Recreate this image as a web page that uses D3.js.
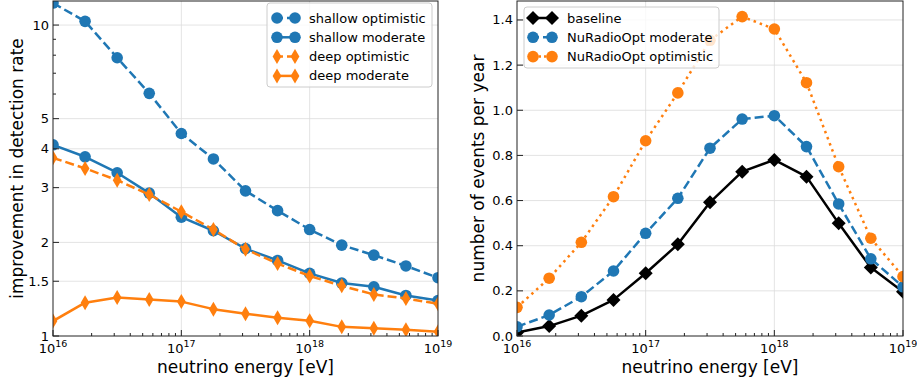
<!DOCTYPE html>
<html>
<head>
<meta charset="utf-8">
<script src="https://cdn.jsdelivr.net/npm/d3@7"></script>
<style>
  body { margin: 0; background: #fff; }
  svg { font-family: "DejaVu Sans", sans-serif; }
</style>
</head>
<body>
<div id="chart"></div>
<script>
// energies: 10^16 ... 10^19 in quarter decades
const energies = d3.range(13).map((i) => Math.pow(10, 16 + i * 0.25));

const shallowOptimistic = [11.77, 10.28, 7.85, 6.03, 4.48, 3.71, 2.93, 2.53, 2.20, 1.96, 1.82, 1.68, 1.54];
const shallowModerate = [4.12, 3.77, 3.35, 2.88, 2.41, 2.18, 1.91, 1.75, 1.59, 1.48, 1.44, 1.35, 1.30];
const deepOptimistic = [3.74, 3.46, 3.17, 2.85, 2.51, 2.20, 1.90, 1.71, 1.56, 1.45, 1.36, 1.32, 1.27];
const deepModerate = [1.117, 1.28, 1.33, 1.31, 1.29, 1.22, 1.18, 1.145, 1.12, 1.07, 1.06, 1.048, 1.032];

const baseline = [0.015, 0.044, 0.09, 0.16, 0.278, 0.406, 0.592, 0.728, 0.78, 0.706, 0.499, 0.303, 0.196];
const nuRadioModerate = [0.041, 0.093, 0.174, 0.288, 0.455, 0.61, 0.832, 0.961, 0.976, 0.839, 0.585, 0.342, 0.218];
const nuRadioOptimistic = [0.127, 0.256, 0.415, 0.617, 0.865, 1.077, 1.31, 1.415, 1.36, 1.122, 0.75, 0.433, 0.263];

const leftYTicks = [1, 1.5, 2, 3, 4, 5, 10];
const leftYMinor = [6, 7, 8, 9];
const rightYTicks = [0, 0.2, 0.4, 0.6, 0.8, 1.0, 1.2, 1.4];
const xMajorExp = [16, 17, 18, 19];

const BLUE = "#1f77b4";
const ORANGE = "#ff7f0e";

const width = 917;
const height = 387;

const svg = d3.select("#chart")
  .append("svg")
  .attr("width", width)
  .attr("height", height);

function drawPanel(opts) {
  const { left, right, top, bottom, y, yTicks, yMinor, yFormat, yLabel, yLabelX, series, id } = opts;

  const x = d3.scaleLog().domain([1e16, 1e19]).range([left, right]);

  const g = svg.append("g");

  g.append("clipPath").attr("id", id)
    .append("rect")
    .attr("x", left).attr("y", top)
    .attr("width", right - left).attr("height", bottom - top);

  // grid
  const grid = g.append("g").attr("stroke", "#dcdcdc").attr("stroke-width", 0.8);
  xMajorExp.slice(1, -1).forEach((e) => {
    grid.append("line")
      .attr("x1", x(Math.pow(10, e))).attr("x2", x(Math.pow(10, e)))
      .attr("y1", top).attr("y2", bottom);
  });
  yTicks.forEach((v) => {
    const yy = y(v);
    if (yy <= top + 1 || yy >= bottom - 1) return;
    grid.append("line").attr("x1", left).attr("x2", right).attr("y1", yy).attr("y2", yy);
  });

  // series
  const plot = g.append("g").attr("clip-path", `url(#${id})`);
  series.forEach((s) => {
    const pts = energies.map((e, i) => [x(e), y(s.values[i])]);
    plot.append("path")
      .attr("d", d3.line()(pts))
      .attr("fill", "none")
      .attr("stroke", s.color)
      .attr("stroke-width", 2.5)
      .attr("stroke-dasharray", s.dash || null)
      .attr("stroke-linejoin", "round");
    pts.forEach((p) => drawMarker(plot, s.marker, p[0], p[1], s.color));
  });

  // frame
  g.append("rect")
    .attr("x", left).attr("y", top)
    .attr("width", right - left).attr("height", bottom - top)
    .attr("fill", "none").attr("stroke", "#222").attr("stroke-width", 1);

  // x ticks (inward)
  const ticks = g.append("g").attr("stroke", "#222").attr("stroke-width", 1);
  xMajorExp.forEach((e) => {
    const xx = x(Math.pow(10, e));
    ticks.append("line").attr("x1", xx).attr("x2", xx).attr("y1", bottom).attr("y2", bottom - 6);
    if (e < 19) {
      for (let m = 2; m <= 9; m++) {
        const xm = x(m * Math.pow(10, e));
        ticks.append("line").attr("x1", xm).attr("x2", xm).attr("y1", bottom).attr("y2", bottom - 3);
      }
    }
    const t = g.append("text")
      .attr("x", xx).attr("y", bottom + 17)
      .attr("text-anchor", "middle")
      .attr("font-size", 13)
      .attr("fill", "#000");
    t.append("tspan").text("10");
    t.append("tspan").attr("dy", -6).attr("font-size", 9.5).text(e);
  });

  // y ticks
  yTicks.forEach((v) => {
    const yy = y(v);
    ticks.append("line").attr("x1", left).attr("x2", left + 6).attr("y1", yy).attr("y2", yy);
    g.append("text")
      .attr("x", left - 4).attr("y", yy + 4.5)
      .attr("text-anchor", "end")
      .attr("font-size", 13)
      .text(yFormat(v));
  });
  (yMinor || []).forEach((v) => {
    const yy = y(v);
    ticks.append("line").attr("x1", left).attr("x2", left + 3).attr("y1", yy).attr("y2", yy);
  });

  // axis labels
  g.append("text")
    .attr("x", (left + right) / 2).attr("y", bottom + 37)
    .attr("text-anchor", "middle")
    .attr("font-size", 17)
    .text("neutrino energy [eV]");

  g.append("text")
    .attr("transform", `translate(${yLabelX},${(top + bottom) / 2}) rotate(-90)`)
    .attr("text-anchor", "middle")
    .attr("font-size", 17)
    .text(yLabel);

  return g;
}

function drawMarker(parent, type, cx, cy, color) {
  if (type === "o") {
    parent.append("circle").attr("cx", cx).attr("cy", cy).attr("r", 5.8).attr("fill", color);
  } else if (type === "D") {
    const r = 7;
    parent.append("path")
      .attr("d", `M${cx},${cy - r}L${cx + r},${cy}L${cx},${cy + r}L${cx - r},${cy}Z`)
      .attr("fill", color);
  } else if (type === "d") {
    const rx = 4.4, ry = 7.5;
    parent.append("path")
      .attr("d", `M${cx},${cy - ry}L${cx + rx},${cy}L${cx},${cy + ry}L${cx - rx},${cy}Z`)
      .attr("fill", color);
  }
}

function drawLegend(items, box, x0, x1, textX, y0, dy) {
  const g = svg.append("g");
  g.append("rect")
    .attr("x", box.x).attr("y", box.y)
    .attr("width", box.w).attr("height", box.h)
    .attr("rx", 3)
    .attr("fill", "#fff").attr("fill-opacity", 0.8)
    .attr("stroke", "#cccccc").attr("stroke-width", 1);
  items.forEach((s, i) => {
    const yy = y0 + i * dy;
    g.append("line")
      .attr("x1", x0).attr("x2", x1).attr("y1", yy).attr("y2", yy)
      .attr("stroke", s.color).attr("stroke-width", 2.5)
      .attr("stroke-dasharray", s.legendDash || null);
    drawMarker(g, s.marker, x0, yy, s.color);
    drawMarker(g, s.marker, x1, yy, s.color);
    g.append("text")
      .attr("x", textX).attr("y", yy + 4.5)
      .attr("font-size", 13)
      .text(s.name);
  });
}

// left panel
const leftTop = 1, leftBottom = 336;
const yLeft = d3.scaleLog().domain([1, 11.95]).range([leftBottom, leftTop]);
const leftSeries = [
  { name: "shallow optimistic", values: shallowOptimistic, color: BLUE, marker: "o", dash: "9,4", legendDash: "6,4" },
  { name: "shallow moderate", values: shallowModerate, color: BLUE, marker: "o" },
  { name: "deep optimistic", values: deepOptimistic, color: ORANGE, marker: "d", dash: "9,4", legendDash: "6,4" },
  { name: "deep moderate", values: deepModerate, color: ORANGE, marker: "d" }
];
drawPanel({
  id: "clipLeft",
  left: 53, right: 438, top: leftTop, bottom: leftBottom,
  y: yLeft, yTicks: leftYTicks, yMinor: leftYMinor,
  yFormat: (v) => String(v),
  yLabel: "improvement in detection rate", yLabelX: 23,
  series: leftSeries
});
drawLegend(leftSeries, { x: 267, y: 3, w: 165, h: 84 }, 277, 295, 309, 18, 19.3);

// right panel
const rightTop = 1, rightBottom = 336;
const yRight = d3.scaleLinear().domain([0, 1.484]).range([rightBottom, rightTop]);
const rightSeries = [
  { name: "baseline", values: baseline, color: "#000", marker: "D" },
  { name: "NuRadioOpt moderate", values: nuRadioModerate, color: BLUE, marker: "o", dash: "9,4", legendDash: "6,4" },
  { name: "NuRadioOpt optimistic", values: nuRadioOptimistic, color: ORANGE, marker: "o", dash: "2.5,4", legendDash: "2.5,3" }
];
drawPanel({
  id: "clipRight",
  left: 517, right: 903, top: rightTop, bottom: rightBottom,
  y: yRight, yTicks: rightYTicks,
  yFormat: d3.format(".1f"),
  yLabel: "number of events per year", yLabelX: 484,
  series: rightSeries
});
drawLegend(rightSeries, { x: 524, y: 7, w: 195, h: 61 }, 533, 552, 567, 18, 19.3);
</script>
</body>
</html>
